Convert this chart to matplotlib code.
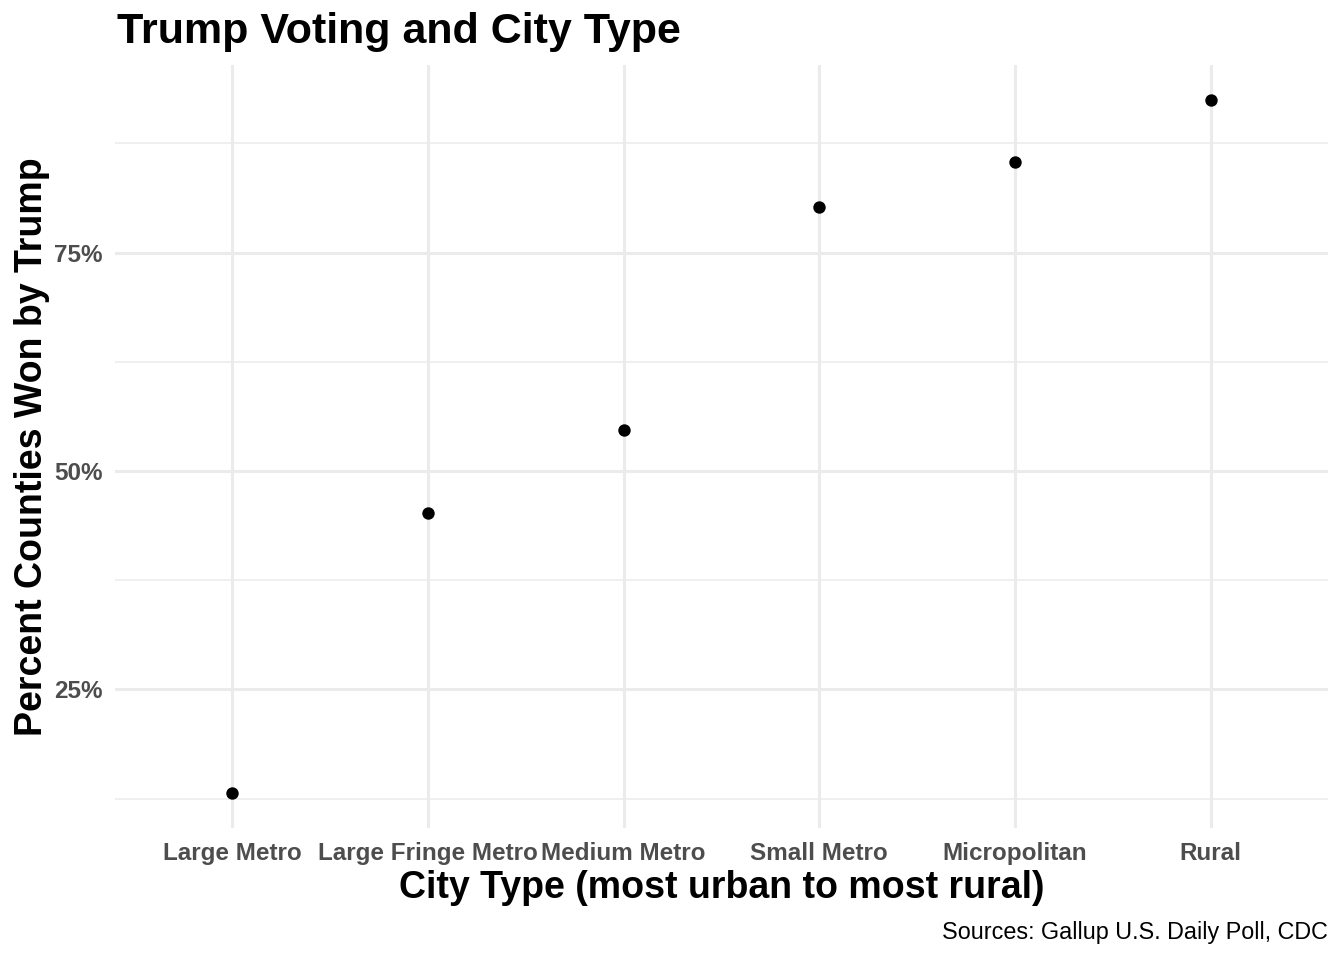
import matplotlib
matplotlib.use("Agg")
import matplotlib.pyplot as plt
from matplotlib.ticker import FixedLocator, FuncFormatter

plt.rcParams['font.family'] = ['Liberation Sans', 'DejaVu Sans']

# data
city_types = ["Large Metro", "Large Fringe Metro", "Medium Metro",
              "Small Metro", "Micropolitan", "Rural"]
pct_trump = [13.1, 45.2, 54.7, 80.2, 85.4, 92.5]

major_y = [25, 50, 75]
minor_y = [12.5, 37.5, 62.5, 87.5]

fig = plt.figure(figsize=(13.44, 9.6), dpi=100)
ax = fig.add_axes([115/1344, 1-828/960, (1328-115)/1344, (828-65)/960])

xpos = list(range(1, len(city_types)+1))
ax.scatter(xpos, pct_trump, s=80, color='black', zorder=3, linewidths=0)

# ggplot-style expansions
ax.set_xlim(0.4, 6.6)
rng = max(pct_trump) - min(pct_trump)
ax.set_ylim(min(pct_trump) - 0.05*rng, max(pct_trump) + 0.05*rng)

ax.set_xticks(xpos)
ax.set_xticklabels(city_types)
ax.yaxis.set_major_locator(FixedLocator(major_y))
ax.yaxis.set_minor_locator(FixedLocator(minor_y))
ax.yaxis.set_major_formatter(FuncFormatter(lambda v, p: "%d%%" % v))

for y in major_y:
    ax.axhline(y, color='#EBEBEB', lw=2.2, zorder=0)
for y in minor_y:
    ax.axhline(y, color='#EBEBEB', lw=1.1, zorder=0)
for x in xpos:
    ax.axvline(x, color='#EBEBEB', lw=2.2, zorder=0)

for s in ax.spines.values():
    s.set_visible(False)
ax.tick_params(axis='both', which='both', length=0)
ax.tick_params(axis='x', pad=10)
ax.tick_params(axis='y', pad=9)
for lab in ax.get_xticklabels() + ax.get_yticklabels():
    lab.set_fontsize(17.5)
    lab.set_fontweight('bold')
    lab.set_color('#4D4D4D')

ax.set_xlabel("City Type (most urban to most rural)", fontsize=27,
              fontweight='bold', va='center')
ax.xaxis.set_label_coords(0.5, (828-888)/763)
ax.set_ylabel("Percent Counties Won by Trump", fontsize=27,
              fontweight='bold', va='center')
ax.yaxis.set_label_coords((32-115)/1213, 0.5)

fig.text(117/1344, 1-32/960, "Trump Voting and City Type", fontsize=31,
         fontweight='bold', ha='left', va='center')
fig.text(1328/1344, 1-932/960, "Sources: Gallup U.S. Daily Poll, CDC",
         fontsize=16.8, ha='right', va='center')

fig.savefig("out.png", dpi=100)
